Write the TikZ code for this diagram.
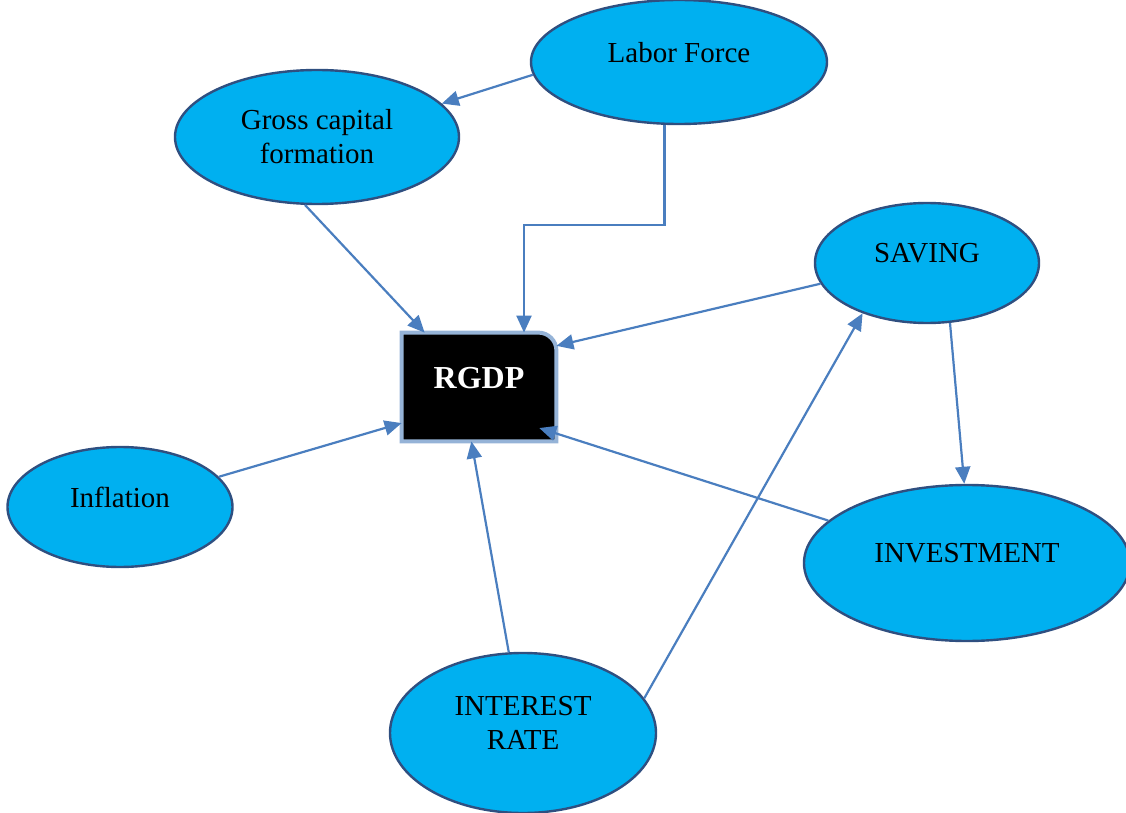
\documentclass[tikz,border=0pt]{standalone}
\usepackage{fontspec}
\setmainfont{Liberation Serif}
\usetikzlibrary{arrows.meta,shapes.geometric,backgrounds}
\definecolor{bubble}{HTML}{00B0F0}
\definecolor{bubbleline}{HTML}{2F4F80}
\definecolor{linkblue}{HTML}{4A7EBF}
\definecolor{frameblue}{HTML}{95B3D7}

\begin{document}
\begin{tikzpicture}[
    x=0.5pt, y=-0.5pt,
    font=\fontsize{14.5}{17}\selectfont,
    var/.style={ellipse, draw=bubbleline, line width=1.2pt, fill=bubble, align=center, inner sep=0pt},
    lift/.style={text depth=10pt},
    core/.style={rectangle, text=white, font=\fontsize{16}{19}\selectfont\bfseries, minimum width=77pt, minimum height=54pt, text depth=9pt},
    frame/.style={fill=black, draw=frameblue, line width=2pt},
    ar/.style={-{Triangle[length=8.5pt,width=7.5pt]}, linkblue, line width=1.1pt},
  ]
    \path[use as bounding box, clip] (0,0) rectangle (1126,813);

    \node[var, minimum width=148pt, minimum height=62pt, lift] (labor) at (679,62) {Labor Force};
    \node[var, minimum width=142pt, minimum height=67pt] (gross) at (317,137) {Gross capital\\formation};
    \node[var, minimum width=112pt, minimum height=60pt, lift] (saving) at (927,263) {SAVING};
    \node[var, minimum width=112.5pt, minimum height=60pt, lift] (inflation) at (120,507) {Inflation};
    \node[var, minimum width=163pt, minimum height=78pt, lift] (invest) at (967,563) {INVESTMENT};
    \node[var, minimum width=133pt, minimum height=80pt, lift] (interest) at (523,733) {INTEREST\\RATE};
    \node[core] (rgdp) at (479,387) {RGDP};

    % black box behind the label, only the upper right corner rounded
    \begin{scope}[on background layer]
      \filldraw[frame] (rgdp.north) [rounded corners=9pt] -- (rgdp.north east) [sharp corners] -- (rgdp.south east) -- (rgdp.south west) -- (rgdp.north west) -- cycle;
    \end{scope}

    \coordinate (bend) at (524,225);

    \draw[ar] (labor.185) -- (gross.15);
    \draw[ar] (labor.257) |- (bend) -- (bend |- rgdp.north);
    \draw[ar] (gross.260) -- (rgdp.135);
    \draw[ar] (saving.191) -- (rgdp.28);
    \draw[ar] (saving.291) -- (invest.92);
    \draw[ar, shorten >=-9pt] (invest.163) -- (rgdp.329);
    \draw[ar] (inflation.17) -- (rgdp.205);
    \draw[ar] (interest.100) -- (rgdp.262);
    \draw[ar] (interest.16) -- (saving.218);
  \end{tikzpicture}
\end{document}
